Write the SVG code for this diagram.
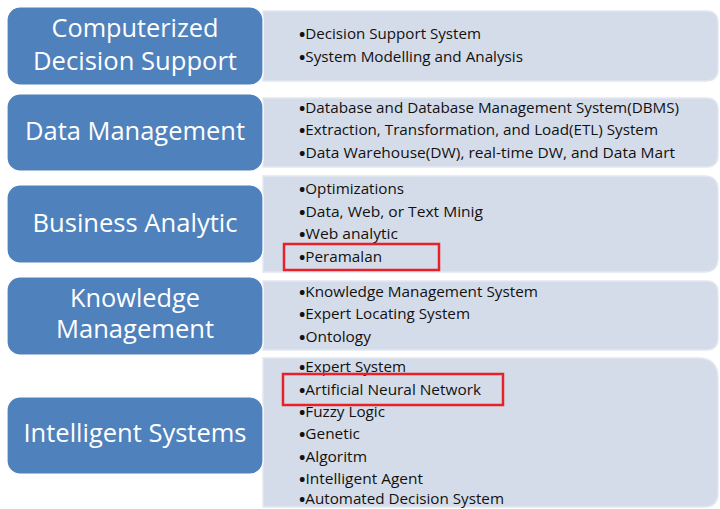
<svg xmlns="http://www.w3.org/2000/svg" width="720" height="509" viewBox="0 0 720 509">
<style>
.blue{fill:#4F81BD;stroke:#ffffff;stroke-width:1.2}
.light{fill:#D5DCE9;stroke:#E2E7F0;stroke-width:1.5}
.h{font-family:"Open Sans","Liberation Sans",sans-serif;font-size:25px;fill:#ffffff;text-anchor:middle}
.t{font-family:"Open Sans","Liberation Sans",sans-serif;font-size:14.5px;fill:#111111}
.b{font-size:16px;font-weight:bold}
.hl{fill:none;stroke:#E8202A;stroke-width:2.5}
</style>
<rect width="720" height="509" fill="#ffffff"/>
<g id="list1">
<path class="light" d="M263 11 H706 Q718 11 718 23 V69 Q718 81 706 81 H263 Z"/>
<text class="t" x="299" y="39" textLength="182" lengthAdjust="spacingAndGlyphs"><tspan class="b" dy="0.8">•</tspan><tspan dy="-0.8">Decision Support System</tspan></text>
<text class="t" x="299" y="62" textLength="224" lengthAdjust="spacingAndGlyphs"><tspan class="b" dy="0.8">•</tspan><tspan dy="-0.8">System Modelling and Analysis</tspan></text>
</g>
<g id="list2">
<path class="light" d="M263 98 H706 Q718 98 718 110 V155 Q718 167 706 167 H263 Z"/>
<text class="t" x="299" y="113" textLength="380" lengthAdjust="spacingAndGlyphs"><tspan class="b" dy="0.8">•</tspan><tspan dy="-0.8">Database and Database Management System(DBMS)</tspan></text>
<text class="t" x="299" y="135" textLength="359" lengthAdjust="spacingAndGlyphs"><tspan class="b" dy="0.8">•</tspan><tspan dy="-0.8">Extraction, Transformation, and Load(ETL) System</tspan></text>
<text class="t" x="299" y="158" textLength="376" lengthAdjust="spacingAndGlyphs"><tspan class="b" dy="0.8">•</tspan><tspan dy="-0.8">Data Warehouse(DW), real-time DW, and Data Mart</tspan></text>
</g>
<g id="list3">
<path class="light" d="M263 176 H704 Q718 176 718 190 V258 Q718 272 704 272 H263 Z"/>
<text class="t" x="299" y="194" textLength="105" lengthAdjust="spacingAndGlyphs"><tspan class="b" dy="0.8">•</tspan><tspan dy="-0.8">Optimizations</tspan></text>
<text class="t" x="299" y="217" textLength="184" lengthAdjust="spacingAndGlyphs"><tspan class="b" dy="0.8">•</tspan><tspan dy="-0.8">Data, Web, or Text Minig</tspan></text>
<text class="t" x="299" y="239" textLength="99" lengthAdjust="spacingAndGlyphs"><tspan class="b" dy="0.8">•</tspan><tspan dy="-0.8">Web analytic</tspan></text>
<text class="t" x="299" y="262" textLength="83" lengthAdjust="spacingAndGlyphs"><tspan class="b" dy="0.8">•</tspan><tspan dy="-0.8">Peramalan</tspan></text>
<rect class="hl" x="284" y="244" width="155" height="26"/>
</g>
<g id="list4">
<path class="light" d="M263 281 H706 Q718 281 718 293 V338 Q718 350 706 350 H263 Z"/>
<text class="t" x="299" y="297" textLength="239" lengthAdjust="spacingAndGlyphs"><tspan class="b" dy="0.8">•</tspan><tspan dy="-0.8">Knowledge Management System</tspan></text>
<text class="t" x="299" y="319" textLength="171" lengthAdjust="spacingAndGlyphs"><tspan class="b" dy="0.8">•</tspan><tspan dy="-0.8">Expert Locating System</tspan></text>
<text class="t" x="299" y="342" textLength="72" lengthAdjust="spacingAndGlyphs"><tspan class="b" dy="0.8">•</tspan><tspan dy="-0.8">Ontology</tspan></text>
</g>
<g id="list5">
<path class="light" d="M263 358 H698 Q718 358 718 378 V493 Q718 507 704 507 H263 Z"/>
<text class="t" x="299" y="372" textLength="107" lengthAdjust="spacingAndGlyphs"><tspan class="b" dy="0.8">•</tspan><tspan dy="-0.8">Expert System</tspan></text>
<text class="t" x="299" y="395" textLength="182" lengthAdjust="spacingAndGlyphs"><tspan class="b" dy="0.8">•</tspan><tspan dy="-0.8">Artificial Neural Network</tspan></text>
<text class="t" x="299" y="417" textLength="86" lengthAdjust="spacingAndGlyphs"><tspan class="b" dy="0.8">•</tspan><tspan dy="-0.8">Fuzzy Logic</tspan></text>
<text class="t" x="299" y="439" textLength="61" lengthAdjust="spacingAndGlyphs"><tspan class="b" dy="0.8">•</tspan><tspan dy="-0.8">Genetic</tspan></text>
<text class="t" x="299" y="462" textLength="68" lengthAdjust="spacingAndGlyphs"><tspan class="b" dy="0.8">•</tspan><tspan dy="-0.8">Algoritm</tspan></text>
<text class="t" x="299" y="484" textLength="124" lengthAdjust="spacingAndGlyphs"><tspan class="b" dy="0.8">•</tspan><tspan dy="-0.8">Intelligent Agent</tspan></text>
<text class="t" x="299" y="504" textLength="205" lengthAdjust="spacingAndGlyphs"><tspan class="b" dy="0.8">•</tspan><tspan dy="-0.8">Automated Decision System</tspan></text>
<rect class="hl" x="283" y="374" width="220" height="31"/>
</g>
<g id="cat1">
<rect class="blue" x="7" y="7" width="256" height="78" rx="13"/>
<text class="h" x="135" y="37" textLength="167" lengthAdjust="spacingAndGlyphs">Computerized</text>
<text class="h" x="135" y="70" textLength="204" lengthAdjust="spacingAndGlyphs">Decision Support</text>
</g>
<g id="cat2">
<rect class="blue" x="7" y="94" width="256" height="77" rx="13"/>
<text class="h" x="135" y="140" textLength="220" lengthAdjust="spacingAndGlyphs">Data Management</text>
</g>
<g id="cat3">
<rect class="blue" x="7" y="185" width="256" height="78" rx="13"/>
<text class="h" x="135" y="232" textLength="205" lengthAdjust="spacingAndGlyphs">Business Analytic</text>
</g>
<g id="cat4">
<rect class="blue" x="7" y="277" width="256" height="78" rx="13"/>
<text class="h" x="135" y="307" textLength="130" lengthAdjust="spacingAndGlyphs">Knowledge</text>
<text class="h" x="135" y="338" textLength="158" lengthAdjust="spacingAndGlyphs">Management</text>
</g>
<g id="cat5">
<rect class="blue" x="7" y="397" width="256" height="77" rx="13"/>
<text class="h" x="135" y="442" textLength="223" lengthAdjust="spacingAndGlyphs">Intelligent Systems</text>
</g>
<g id="connectors"/>
</svg>
